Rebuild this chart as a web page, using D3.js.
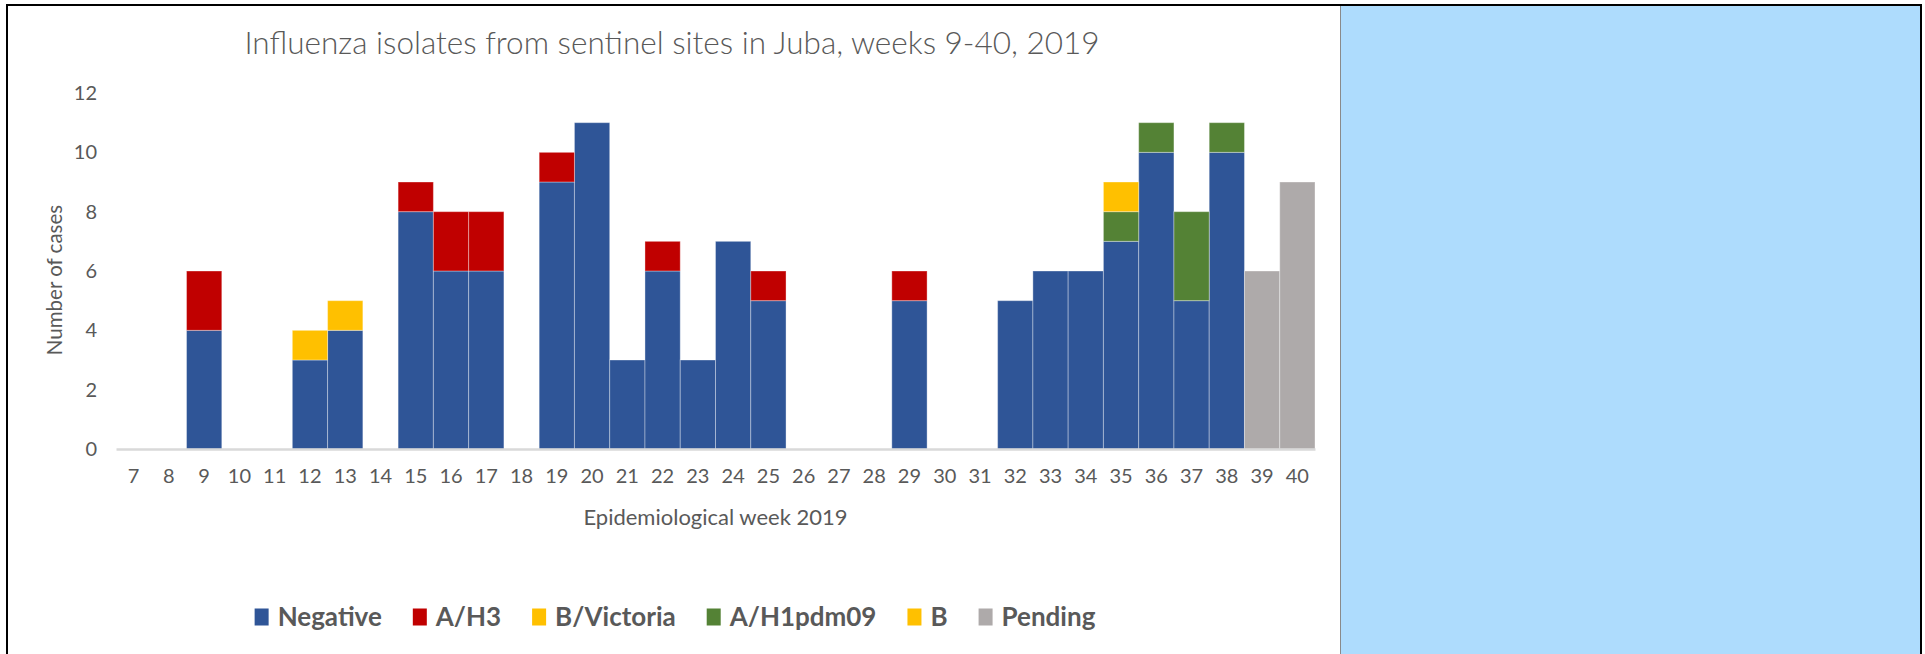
<!DOCTYPE html>
<html>
<head>
<meta charset="utf-8">
<script src="https://cdn.jsdelivr.net/npm/d3@7"></script>
<style>
  html, body { margin: 0; padding: 0; background: #ffffff; overflow: hidden; }
  text { font-family: Lato, "Open Sans", sans-serif; fill: #595959; }
</style>
</head>
<body>
<div id="my_dataviz"></div>
<script>
// weeks shown on the x axis
var weeks = [7, 8, 9, 10, 11, 12, 13, 14, 15, 16, 17, 18, 19, 20, 21, 22, 23,
             24, 25, 26, 27, 28, 29, 30, 31, 32, 33, 34, 35, 36, 37, 38, 39, 40];

// one value per week, same order as weeks
var negative  = [0, 0, 4, 0, 0, 3, 4, 0, 8, 6, 6, 0, 9, 11, 3, 6, 3,
                 7, 5, 0, 0, 0, 5, 0, 0, 5, 6, 6, 7, 10, 5, 10, 0, 0];
var ah3       = [0, 0, 2, 0, 0, 0, 0, 0, 1, 2, 2, 0, 1, 0, 0, 1, 0,
                 0, 1, 0, 0, 0, 1, 0, 0, 0, 0, 0, 0, 0, 0, 0, 0, 0];
var bVictoria = [0, 0, 0, 0, 0, 1, 1, 0, 0, 0, 0, 0, 0, 0, 0, 0, 0,
                 0, 0, 0, 0, 0, 0, 0, 0, 0, 0, 0, 0, 0, 0, 0, 0, 0];
var ah1pdm09  = [0, 0, 0, 0, 0, 0, 0, 0, 0, 0, 0, 0, 0, 0, 0, 0, 0,
                 0, 0, 0, 0, 0, 0, 0, 0, 0, 0, 0, 1, 1, 3, 1, 0, 0];
var bOnly     = [0, 0, 0, 0, 0, 0, 0, 0, 0, 0, 0, 0, 0, 0, 0, 0, 0,
                 0, 0, 0, 0, 0, 0, 0, 0, 0, 0, 0, 1, 0, 0, 0, 0, 0];
var pending   = [0, 0, 0, 0, 0, 0, 0, 0, 0, 0, 0, 0, 0, 0, 0, 0, 0,
                 0, 0, 0, 0, 0, 0, 0, 0, 0, 0, 0, 0, 0, 0, 0, 6, 9];

var seriesNames = ["Negative", "A/H3", "B/Victoria", "A/H1pdm09", "B", "Pending"];
var yTicks = [0, 2, 4, 6, 8, 10, 12];

var colors = ["#2F5597", "#C00000", "#FFC000", "#548235", "#FFC000", "#AEAAAA"];

// build the table d3.stack wants
var columns = [negative, ah3, bVictoria, ah1pdm09, bOnly, pending];
var table = weeks.map(function(w, i) {
  var row = {week: w};
  seriesNames.forEach(function(name, k) { row[name] = columns[k][i]; });
  return row;
});

var W = 1925, H = 654;
var margin = {top: 93, left: 116, right: 610, bottom: 205};
var width = W - margin.left - margin.right,
    height = H - margin.top - margin.bottom;

var svg = d3.select("#my_dataviz")
  .append("svg")
    .attr("width", W)
    .attr("height", H);

// chart frame (left + top edges visible)
svg.append("rect")
  .attr("x", 7).attr("y", 5)
  .attr("width", 1400).attr("height", 700)
  .attr("fill", "#ffffff")
  .attr("stroke", "#000000")
  .attr("stroke-width", 2);

// the empty blue panel on the right
svg.append("rect")
  .attr("x", 1340).attr("y", 5)
  .attr("width", 581).attr("height", 700)
  .attr("fill", "#AEDCFD")
  .attr("stroke", "none");
svg.append("line")
  .attr("x1", 1340.5).attr("x2", 1340.5).attr("y1", 5).attr("y2", H)
  .attr("stroke", "#8a8a8a").attr("stroke-width", 1);
svg.append("path")
  .attr("d", "M1340,5H1921V" + H)
  .attr("fill", "none")
  .attr("stroke", "#000000")
  .attr("stroke-width", 2);

var g = svg.append("g")
  .attr("transform", "translate(" + margin.left + "," + margin.top + ")");

var x = d3.scaleBand()
  .domain(weeks)
  .range([0, width])
  .padding(0);

var y = d3.scaleLinear()
  .domain([0, 12])
  .range([height, 0]);

var stacked = d3.stack().keys(seriesNames)(table);

// bars
g.append("g")
  .selectAll("g")
  .data(stacked)
  .enter()
  .append("g")
    .attr("fill", function(d, i) { return colors[i]; })
  .selectAll("rect")
  .data(function(d) { return d.filter(function(p) { return p[1] - p[0] > 0; }); })
  .enter()
  .append("rect")
    .attr("x", function(d) { return x(d.data.week); })
    .attr("y", function(d) { return y(d[1]); })
    .attr("width", x.bandwidth())
    .attr("height", function(d) { return y(d[0]) - y(d[1]); })
    .attr("stroke", "#ffffff")
    .attr("stroke-opacity", 0.35)
    .attr("stroke-width", 1);

// x axis
var xAxis = g.append("g")
  .attr("transform", "translate(0," + height + ")")
  .call(d3.axisBottom(x).tickSize(0).tickPadding(20));
xAxis.select(".domain")
  .attr("stroke", "#D9D9D9")
  .attr("stroke-width", 2.5);
xAxis.selectAll("text")
  .style("font-size", "20px")
  .style("fill", "#595959");

// y axis, labels only
var yAxis = g.append("g")
  .attr("transform", "translate(-19,0)")
  .call(d3.axisLeft(y).tickValues(yTicks).tickSize(0).tickPadding(0));
yAxis.select(".domain").remove();
yAxis.selectAll("text")
  .style("font-size", "20px")
  .style("fill", "#595959");

// title
svg.append("text")
  .attr("x", 672)
  .attr("y", 54)
  .attr("text-anchor", "middle")
  .style("font-size", "31.5px")
  .style("font-weight", 300)
  .text("Influenza isolates from sentinel sites in Juba, weeks 9-40, 2019");

// axis titles
svg.append("text")
  .attr("transform", "translate(55," + 280 + ") rotate(-90)")
  .attr("text-anchor", "middle")
  .attr("dy", "0.35em")
  .style("font-size", "20.5px")
  .text("Number of cases");

svg.append("text")
  .attr("x", margin.left + width / 2)
  .attr("y", 517)
  .attr("dy", "0.35em")
  .attr("text-anchor", "middle")
  .style("font-size", "22px")
  .text("Epidemiological week 2019");

// legend, laid out from measured text widths
var legend = svg.append("g");
var items = legend.selectAll("g")
  .data(seriesNames)
  .enter()
  .append("g");
items.append("rect")
  .attr("width", 14)
  .attr("height", 17)
  .attr("y", -8.5)
  .attr("fill", function(d, i) { return colors[i]; });
items.append("text")
  .attr("x", 23)
  .attr("dy", "0.35em")
  .style("font-size", "26px")
  .style("font-weight", 700)
  .text(function(d) { return d; });

var cursor = 0;
items.each(function() {
  var el = d3.select(this);
  el.attr("transform", "translate(" + cursor + ",0)");
  cursor += 23 + el.select("text").node().getComputedTextLength() + 31;
});
var legendWidth = cursor - 31;
legend.attr("transform", "translate(" + (675 - legendWidth / 2) + ",617)");
</script>
</body>
</html>
